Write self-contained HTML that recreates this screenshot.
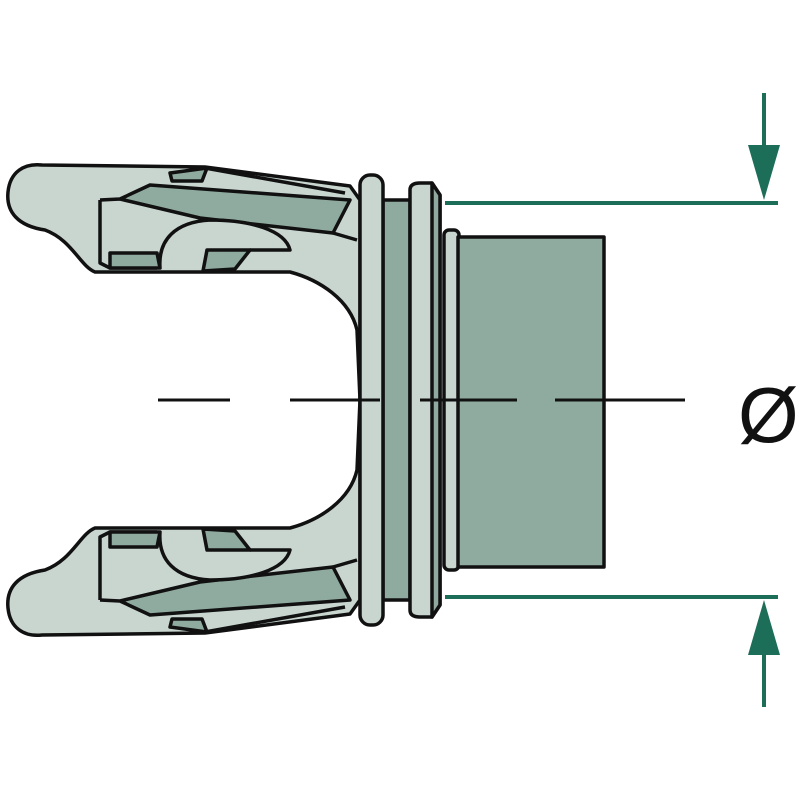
<!DOCTYPE html>
<html><head><meta charset="utf-8"><style>html,body{margin:0;padding:0;background:#fff}svg{display:block}</style></head>
<body>
<svg width="800" height="800" viewBox="0 0 800 800" xmlns="http://www.w3.org/2000/svg">
<defs>
<g id="arm" stroke="#111" stroke-width="3.5" stroke-linejoin="round">
  <path d="M360,400 L357,330 C350,300 320,280 290,272 L250,272 L95,272 C80,266 72,240 45,230 C18,226 6,212 8,192 C10,172 24,163 42,165 L205,167 L350,186 L360,200 Z" fill="#c9d6d0"/>
  <path d="M170,173 L207,168 L202,181 L172,181 Z" fill="#8fab9f"/>
  <path d="M205,168 L345,193" fill="none"/>
  <path d="M100,200 L120,199 L150,185 L350,200 L333,233 L200,218 L120,199" fill="#8fab9f"/>
  <path d="M100,200 L100,263 L110,268 L157,268" fill="none"/>
  <path d="M110,253 L157,253 L160,268 L110,268 Z" fill="#8fab9f"/>
  <path d="M160,268 C158,240 175,222 210,220 C250,220 285,230 290,250 L250,250" fill="#c9d6d0"/>
  <path d="M207,250 L250,250 L235,269 L203,271 Z" fill="#8fab9f"/>
  <path d="M333,233 L357,240" fill="none"/>
</g>
</defs>
<use href="#arm"/>
<use href="#arm" transform="translate(0,800) scale(1,-1)"/>
<g stroke="#111" stroke-width="3.5" stroke-linejoin="round">
  <rect x="383" y="200" width="27" height="400" fill="#8fab9f"/>
  <rect x="360" y="175" width="23" height="450" rx="10" fill="#c9d6d0"/>
  <path d="M410,190 Q410,183 420,183 L432,183 L440,195 L440,605 L432,617 L420,617 Q410,617 410,610 Z" fill="#c9d6d0"/>
  <path d="M432,183 L440,195 L440,605 L432,617 Z" fill="#8fab9f"/>
  <rect x="444" y="230" width="15" height="340" rx="5" fill="#c9d6d0"/>
  <rect x="458" y="237" width="146" height="330" fill="#8fab9f"/>
</g>
<g stroke="#111" stroke-width="3">
  <line x1="158" y1="400" x2="230" y2="400"/>
  <line x1="290" y1="400" x2="380" y2="400"/>
  <line x1="420" y1="400" x2="517" y2="400"/>
  <line x1="555" y1="400" x2="685" y2="400"/>
</g>
<g stroke="#1d6e58" stroke-width="4" fill="#1d6e58">
  <line x1="445" y1="203" x2="778" y2="203"/>
  <line x1="445" y1="597" x2="778" y2="597"/>
  <line x1="764" y1="93" x2="764" y2="150"/>
  <line x1="764" y1="650" x2="764" y2="707"/>
  <polygon points="748,145 780,145 764,200" stroke="none"/>
  <polygon points="748,655 780,655 764,600" stroke="none"/>
</g>
<text x="738" y="442" font-family="Liberation Sans, sans-serif" font-size="78" fill="#111">Ø</text>
</svg>
</body></html>
